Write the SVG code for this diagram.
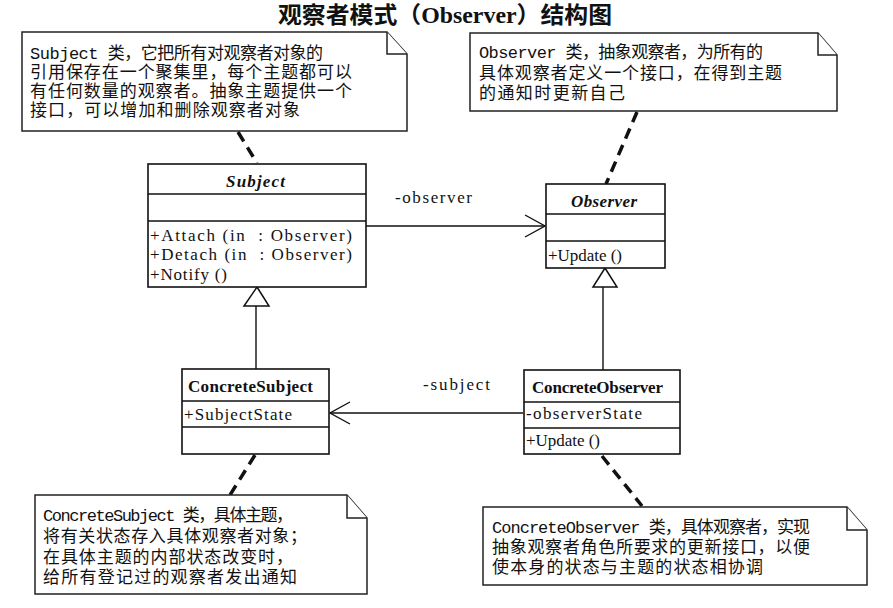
<svg xmlns="http://www.w3.org/2000/svg" width="893" height="608" viewBox="0 0 893 608">
<style>
.box{fill:#fff;stroke:#111;stroke-width:1.6}
.ln{fill:none;stroke:#111;stroke-width:1.4}
.dash{fill:none;stroke:#111;stroke-width:3.5;stroke-dasharray:11 7}
.note{fill:#fff;stroke:#222;stroke-width:1.5}
.t{font-family:"Liberation Serif","Noto Sans CJK SC",serif;font-size:17px;fill:#111}
.n{font-family:"Liberation Mono","Noto Sans CJK SC",monospace;font-size:17px;fill:#111}
.b{font-weight:bold}
.i{font-style:italic;font-weight:bold}
.title{font-family:"Liberation Serif","Noto Sans CJK SC",serif;font-size:23px;font-weight:bold;fill:#111}
</style>
<defs>
<marker id="open" viewBox="0 0 22 24" refX="21" refY="12" markerWidth="22" markerHeight="24" markerUnits="userSpaceOnUse" orient="auto">
<path d="M1 1 L21 12 L1 23" fill="none" stroke="#111" stroke-width="1.4"/>
</marker>
</defs>
<rect width="893" height="608" fill="#fff"/>
<text class="title" x="278" y="23" textLength="334" lengthAdjust="spacingAndGlyphs">观察者模式（Observer）结构图</text>

<g id="connectors">
<line class="ln" x1="366" y1="226" x2="545" y2="226" marker-end="url(#open)"/>
<line class="ln" x1="523" y1="413" x2="330" y2="413" marker-end="url(#open)"/>
<path class="ln" d="M256 369 V306"/>
<path d="M257 287 L269 306 L244 306 Z" fill="#fff" stroke="#111" stroke-width="1.5"/>
<path class="ln" d="M603 370 V287"/>
<path d="M605 268 L617 287 L593 287 Z" fill="#fff" stroke="#111" stroke-width="1.5"/>
<line class="dash" x1="238" y1="132" x2="257" y2="163"/>
<line class="dash" x1="637" y1="112" x2="606" y2="184"/>
<line class="dash" x1="255" y1="455" x2="230" y2="495"/>
<line class="dash" x1="602" y1="456" x2="642" y2="506"/>
<text class="t" x="395" y="203" textLength="77">-observer</text>
<text class="t" x="423" y="390" textLength="67">-subject</text>
</g>

<g id="note-subject">
<path class="note" d="M22 32 H387 L407 54 V131 H22 Z"/>
<path class="note" d="M387 32 V54 H407" fill="none"/>
<text class="n" x="30" y="59" textLength="293">Subject 类，它把所有对观察者对象的</text>
<text class="n" x="30" y="78" textLength="322">引用保存在一个聚集里，每个主题都可以</text>
<text class="n" x="30" y="97" textLength="322">有任何数量的观察者。抽象主题提供一个</text>
<text class="n" x="30" y="116" textLength="270">接口，可以增加和删除观察者对象</text>
</g>

<g id="note-observer">
<path class="note" d="M470 33 H818 L837 55 V111 H470 Z"/>
<path class="note" d="M818 33 V55 H837" fill="none"/>
<text class="n" x="479" y="58" textLength="284">Observer 类，抽象观察者，为所有的</text>
<text class="n" x="479" y="79" textLength="303">具体观察者定义一个接口，在得到主题</text>
<text class="n" x="479" y="99" textLength="146">的通知时更新自己</text>
</g>

<g id="Subject">
<rect class="box" x="148" y="164" width="218" height="123"/>
<line class="box" x1="148" y1="194" x2="366" y2="194"/>
<line class="box" x1="148" y1="221" x2="366" y2="221"/>
<text class="t i" x="226" y="187" textLength="59">Subject</text>
<text class="t" x="150" y="241" textLength="202" xml:space="preserve">+Attach (in  : Observer)</text>
<text class="t" x="150" y="260" textLength="202" xml:space="preserve">+Detach (in  : Observer)</text>
<text class="t" x="150" y="280" textLength="77">+Notify ()</text>
</g>

<g id="Observer">
<rect class="box" x="546" y="184" width="119" height="84"/>
<line class="box" x1="546" y1="214" x2="665" y2="214"/>
<line class="box" x1="546" y1="241" x2="665" y2="241"/>
<text class="t i" x="571" y="207" textLength="66">Observer</text>
<text class="t" x="548" y="261" textLength="74">+Update ()</text>
</g>

<g id="ConcreteSubject">
<rect class="box" x="182" y="369" width="147" height="85"/>
<line class="box" x1="182" y1="401" x2="329" y2="401"/>
<line class="box" x1="182" y1="427" x2="329" y2="427"/>
<text class="t b" x="188" y="392" textLength="125">ConcreteSubject</text>
<text class="t" x="184" y="420" textLength="108">+SubjectState</text>
</g>

<g id="ConcreteObserver">
<rect class="box" x="524" y="370" width="156" height="84"/>
<line class="box" x1="524" y1="402" x2="680" y2="402"/>
<line class="box" x1="524" y1="428" x2="680" y2="428"/>
<text class="t b" x="532" y="393" textLength="131">ConcreteObserver</text>
<text class="t" x="526" y="419" textLength="116">-observerState</text>
<text class="t" x="526" y="446" textLength="74">+Update ()</text>
</g>

<g id="note-concretesubject">
<path class="note" d="M35 495 H347 L367 518 V594 H35 Z"/>
<path class="note" d="M347 495 V518 H367" fill="none"/>
<text class="n" x="43" y="521" textLength="250">ConcreteSubject 类，具体主题，</text>
<text class="n" x="43" y="542" textLength="264">将有关状态存入具体观察者对象；</text>
<text class="n" x="43" y="563" textLength="250">在具体主题的内部状态改变时，</text>
<text class="n" x="43" y="583" textLength="254">给所有登记过的观察者发出通知</text>
</g>

<g id="note-concreteobserver">
<path class="note" d="M483 507 H847 L867 530 V585 H483 Z"/>
<path class="note" d="M847 507 V530 H867" fill="none"/>
<text class="n" x="492" y="533" textLength="318">ConcreteObserver 类，具体观察者，实现</text>
<text class="n" x="492" y="553" textLength="318">抽象观察者角色所要求的更新接口，以便</text>
<text class="n" x="492" y="573" textLength="271">使本身的状态与主题的状态相协调</text>
</g>
</svg>
